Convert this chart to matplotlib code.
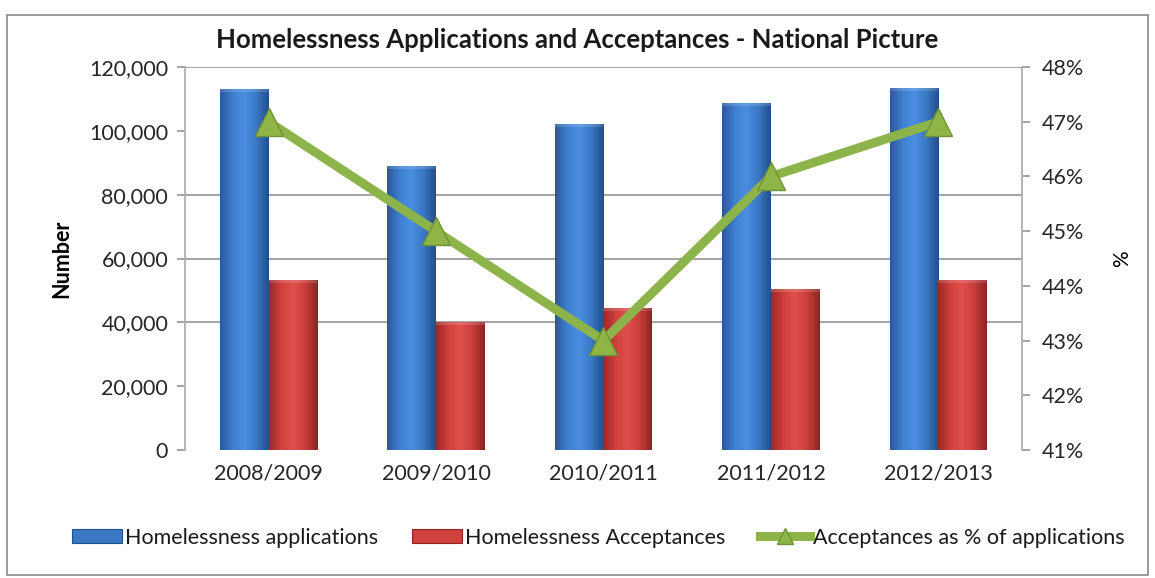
import numpy as np
import matplotlib.pyplot as plt
from matplotlib.colors import LinearSegmentedColormap
from matplotlib.patches import Rectangle, Patch
from matplotlib.lines import Line2D

plt.rcParams['font.family'] = ['Lato', 'DejaVu Sans']

years = ['2008/2009', '2009/2010', '2010/2011', '2011/2012', '2012/2013']
applications = [113000, 89000, 102200, 108800, 113500]
acceptances = [53300, 40100, 44500, 50500, 53300]
accept_pct = [47, 45, 43, 46, 47]

blue_cmap = LinearSegmentedColormap.from_list('b', ['#2a5a9a', '#3f7fcf', '#4a8ee0', '#3a78c4', '#23508a'])
red_cmap = LinearSegmentedColormap.from_list('r', ['#9a2a28', '#d0403d', '#e0504d', '#c83d3a', '#8a2523'])
green = '#8db44b'

fig = plt.figure(figsize=(11.55, 5.78), dpi=100)
ax = fig.add_axes([0.160, 0.2215, 0.725, 0.6625])
ax2 = ax.twinx()

x = np.arange(len(years))
w = 0.29


def gradient_bars(axis, xs, heights, cmap):
    bars = axis.bar(xs, heights, width=w, align='edge', color=cmap(0.5),
                    edgecolor='none', zorder=2)
    grad = np.linspace(0, 1, 64).reshape(1, -1)
    for b in bars:
        bx, by = b.get_x(), b.get_y()
        bw, bh = b.get_width(), b.get_height()
        im = axis.imshow(grad, cmap=cmap, aspect='auto', zorder=2.1,
                         extent=[bx, bx + bw, by, by + bh], origin='lower')
        im.set_clip_path(b)
        # soft bevel along the top edge
        axis.add_patch(Rectangle((bx, by + bh - 900), bw, 900,
                                 facecolor='white', alpha=0.15,
                                 edgecolor='none', zorder=2.2))
    return bars


gradient_bars(ax, x - w, applications, blue_cmap)
gradient_bars(ax, x, acceptances, red_cmap)

ax.set_xlim(-0.5, len(years) - 0.5)
ax.set_ylim(0, 120000)
ax.set_yticks(range(0, 120001, 20000))
ax.set_yticklabels([f'{v:,}' for v in range(0, 120001, 20000)])
ax.set_xticks(x)
ax.set_xticklabels(years)
for g in [40000, 60000, 80000, 120000]:
    ax.axhline(g, color='#8a8a8a', lw=1.1, zorder=1)

ax2.plot(x, accept_pct, color=green, lw=6.5, marker='^', ms=20,
         markerfacecolor='#8fb547', markeredgecolor='#6f9433', mew=1, zorder=3)
ax2.set_ylim(41, 48)
ax2.set_yticks(range(41, 49))
ax2.set_yticklabels([f'{v}%' for v in range(41, 49)])

for a in (ax, ax2):
    for s in a.spines.values():
        s.set_visible(False)
    a.tick_params(colors='#8a8a8a', labelcolor='#262626', labelsize=15.5,
                  length=6, width=1.1)
ax.spines['left'].set_visible(True)
ax.spines['left'].set_color('#b0b0b0')
ax.spines['left'].set_linewidth(1.3)
ax2.spines['right'].set_visible(True)
ax2.spines['right'].set_color('#b0b0b0')
ax2.spines['right'].set_linewidth(1.3)
ax.tick_params(axis='x', length=0, pad=10, labelsize=15.5)
ax.tick_params(axis='y', pad=6)
ax2.tick_params(axis='y', pad=8)

ax.set_ylabel('Number', fontsize=15.5, fontweight='bold', labelpad=12)
ax2.set_ylabel('%', fontsize=15, rotation=90, labelpad=20)
fig.text(0.5, 0.93, 'Homelessness Applications and Acceptances - National Picture',
         ha='center', va='center', fontsize=18.5, fontweight='bold', color='#1a1a1a')

handles = [
    Patch(facecolor='#3a78c4', edgecolor='#23508a', lw=0.8),
    Patch(facecolor='#d0403d', edgecolor='#8a2523', lw=0.8),
    Line2D([], [], color=green, lw=6.5, marker='^', ms=12,
           markerfacecolor='#8fb547', markeredgecolor='#6f9433'),
]
labels = ['Homelessness applications', 'Homelessness Acceptances',
          'Acceptances as % of applications']
fig.legend(handles, labels, loc='center', bbox_to_anchor=(0.518, 0.07),
           ncol=3, frameon=False, fontsize=15.5, handlelength=2.3,
           handleheight=0.6, handletextpad=0.15, columnspacing=1.6,
           labelcolor='#1a1a1a')

# chart frame
fig.add_artist(Rectangle((0.006, 0.006), 0.988, 0.968, transform=fig.transFigure,
                         fill=False, edgecolor='#8a8a8a', lw=1.2))

fig.savefig('out.png', dpi=100)
